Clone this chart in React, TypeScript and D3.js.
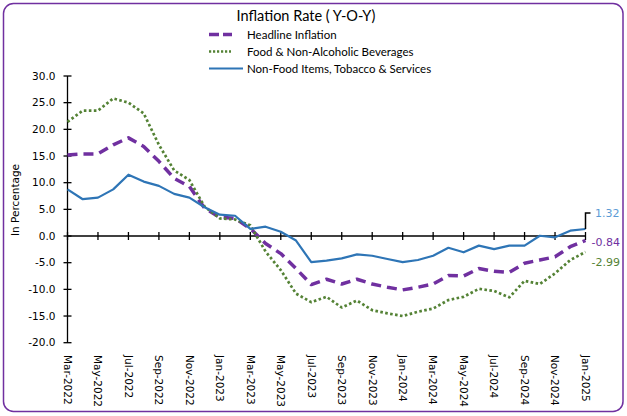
import React from "react";
import * as d3 from "d3";

const months = [
  "Mar-2022","Apr-2022","May-2022","Jun-2022","Jul-2022","Aug-2022","Sep-2022","Oct-2022","Nov-2022","Dec-2022",
  "Jan-2023","Feb-2023","Mar-2023","Apr-2023","May-2023","Jun-2023","Jul-2023","Aug-2023","Sep-2023","Oct-2023","Nov-2023","Dec-2023",
  "Jan-2024","Feb-2024","Mar-2024","Apr-2024","May-2024","Jun-2024","Jul-2024","Aug-2024","Sep-2024","Oct-2024","Nov-2024","Dec-2024",
  "Jan-2025",
];

const headline = [15.2, 15.4, 15.4, 17.1, 18.4, 16.8, 14.0, 10.8, 9.3, 5.2, 3.5, 3.3, 1.4, -1.4, -3.3, -6.1, -9.1, -8.1, -9.0, -8.1, -9.0, -9.6, -10.1, -9.6, -9.0, -7.4, -7.5, -6.1, -6.6, -6.8, -5.1, -4.5, -3.9, -2.0, -0.84];
const food = [21.4, 23.5, 23.5, 25.8, 25.0, 23.0, 17.1, 12.3, 10.5, 5.5, 3.3, 3.1, 2.0, -2.9, -6.4, -10.8, -12.4, -11.4, -13.4, -12.1, -13.9, -14.5, -15.0, -14.2, -13.6, -12.0, -11.4, -9.9, -10.3, -11.5, -8.4, -9.0, -7.0, -4.5, -2.99];
const nonFood = [8.75, 6.9, 7.2, 8.75, 11.5, 10.2, 9.4, 7.9, 7.2, 5.4, 4.0, 3.8, 1.35, 1.75, 0.8, -0.85, -4.9, -4.6, -4.2, -3.45, -3.7, -4.3, -4.9, -4.5, -3.7, -2.2, -3.05, -1.8, -2.45, -1.8, -1.8, 0.05, -0.25, 1.0, 1.32];

const yTicks = [30, 25, 20, 15, 10, 5, 0, -5, -10, -15, -20];
const seriesNames = ["Headline Inflation", "Food & Non-Alcoholic Beverages", "Non-Food Items, Tobacco & Services"];

const PURPLE = "#7030A0";
const GREEN = "#548235";
const BLUE = "#2E75B6";
const LIGHTBLUE = "#5B9BD5";

export default function App() {
  const W = 627, H = 416;
  const x = d3.scaleLinear().domain([0, months.length - 1]).range([67.5, 585.5]);
  const y = d3.scaleLinear().domain([-20, 30]).range([342.7, 76]);
  const line = d3.line<number>().x((_, i) => x(i)).y((d) => y(d));

  const tickFont = "'DejaVu Sans', Verdana, sans-serif";
  const calFont = "Lato, 'Open Sans', sans-serif";

  const series = [
    { data: headline, color: PURPLE, width: 3.5, dash: "10 6", cap: "butt" },
    { data: food, color: GREEN, width: 2.7, dash: "2.6 2.4", cap: "butt" },
    { data: nonFood, color: BLUE, width: 2.2, dash: null, cap: "butt" },
  ];

  const last = months.length - 1;

  return (
    <svg width={W} height={H} style={{ position: "absolute", left: 0, top: 0 }}>
      <rect x={0} y={0} width={W} height={H} fill="#ffffff" />
      <rect x={3.5} y={3.5} width={619.5} height={408} rx={10} ry={10} fill="#ffffff" stroke={PURPLE} strokeWidth={1.5} />

      <text x={306} y={21} textAnchor="middle" fontFamily={calFont} fontSize={14.5} fill="#000">
        Inflation Rate ( Y-O-Y)
      </text>

      {/* legend */}
      <g>
        <line x1={209} x2={232} y1={34.5} y2={34.5} stroke={PURPLE} strokeWidth={3.5} strokeDasharray="10 4" />
        <text x={247} y={34.5} dy="0.35em" fontFamily={calFont} fontSize={11.5}>{seriesNames[0]}</text>
        <line x1={209} x2={231} y1={51.5} y2={51.5} stroke={GREEN} strokeWidth={2.5} strokeDasharray="2.2 1.8" />
        <text x={247} y={51.5} dy="0.35em" fontFamily={calFont} fontSize={11.5}>{seriesNames[1]}</text>
        <line x1={209} x2={243} y1={68.5} y2={68.5} stroke={BLUE} strokeWidth={2.2} />
        <text x={247} y={68.5} dy="0.35em" fontFamily={calFont} fontSize={11.5}>{seriesNames[2]}</text>
      </g>

      {/* y axis */}
      <line x1={67.5} x2={67.5} y1={y(30)} y2={y(-20)} stroke="#000" strokeWidth={1.3} />
      {yTicks.map((t) => (
        <g key={t}>
          <line x1={63.5} x2={71.5} y1={y(t)} y2={y(t)} stroke="#000" strokeWidth={1.3} />
          <text x={55.5} y={y(t)} dy="0.36em" textAnchor="end" fontFamily={tickFont} fontSize={10.5} fill="#000">
            {t.toFixed(1)}
          </text>
        </g>
      ))}
      <text transform={`translate(19,${200}) rotate(-90)`} textAnchor="middle" fontFamily={tickFont} fontSize={10.5} fill="#000">
        In Percentage
      </text>

      {/* x axis */}
      <line x1={x(0)} x2={x(last)} y1={y(0)} y2={y(0)} stroke="#000" strokeWidth={1.3} />
      {months.map((m, i) =>
        i % 2 === 0 ? (
          <g key={m}>
            <line x1={x(i)} x2={x(i)} y1={y(0) - 4} y2={y(0) + 4} stroke="#000" strokeWidth={1.3} />
            <text
              transform={`translate(${x(i)},355) rotate(90)`}
              dy="0.35em"
              textAnchor="start"
              fontFamily={tickFont}
              fontSize={10.5}
              fill="#000"
            >
              {m}
            </text>
          </g>
        ) : null
      )}

      {/* series */}
      {series.map((s, k) => (
        <path
          key={k}
          d={line(s.data) || ""}
          fill="none"
          stroke={s.color}
          strokeWidth={s.width}
          strokeDasharray={s.dash || undefined}
          strokeLinecap={s.cap as any}
          strokeLinejoin="round"
        />
      ))}

      {/* end labels */}
      <path
        d={`M${x(last)},${y(nonFood[last])} L${x(last)},${213} L${x(last) + 5},${213}`}
        fill="none"
        stroke="#000"
        strokeWidth={1.5}
      />
      <text x={595} y={213} dy="0.36em" fontFamily={tickFont} fontSize={11} fill={LIGHTBLUE}>
        {nonFood[last].toFixed(2)}
      </text>
      <text x={591.5} y={242.3} dy="0.36em" fontFamily={tickFont} fontSize={11} fill={PURPLE}>
        {headline[last].toFixed(2)}
      </text>
      <text x={591.5} y={262.3} dy="0.36em" fontFamily={tickFont} fontSize={11} fill={GREEN}>
        {food[last].toFixed(2)}
      </text>
    </svg>
  );
}
